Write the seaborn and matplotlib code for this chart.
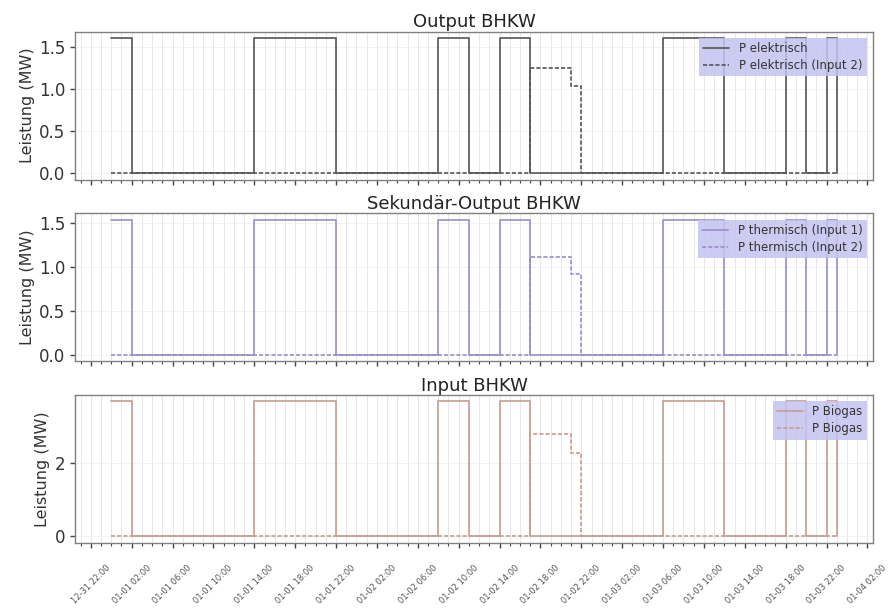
import pandas as pd
import matplotlib
matplotlib.use("Agg")
import matplotlib.pyplot as plt
import matplotlib.dates as mdates
import seaborn as sns

# change points of the step series (value holds until next time)
t_in1 = ["2019-01-01 00:00", "2019-01-01 02:00", "2019-01-01 14:00", "2019-01-01 22:00",
         "2019-01-02 08:00", "2019-01-02 11:00", "2019-01-02 14:00", "2019-01-02 17:00",
         "2019-01-03 06:00", "2019-01-03 12:00", "2019-01-03 18:00", "2019-01-03 20:00",
         "2019-01-03 22:00", "2019-01-03 23:00"]
t_in2 = ["2019-01-01 00:00", "2019-01-02 17:00", "2019-01-02 21:00", "2019-01-02 22:00",
         "2019-01-03 23:00"]

p_el_1 = [1.6, 0, 1.6, 0, 1.6, 0, 1.6, 0, 1.6, 0, 1.6, 0, 1.6, 0]
p_el_2 = [0, 1.25, 1.03, 0, 0]
p_th_1 = [1.54, 0, 1.54, 0, 1.54, 0, 1.54, 0, 1.54, 0, 1.54, 0, 1.54, 0]
p_th_2 = [0, 1.11, 0.92, 0, 0]
p_bg_1 = [3.66, 0, 3.66, 0, 3.66, 0, 3.66, 0, 3.66, 0, 3.66, 0, 3.66, 0]
p_bg_2 = [0, 2.77, 2.27, 0, 0]

panels = [
    ("Output BHKW", p_el_1, p_el_2, "P elektrisch", "P elektrisch (Input 2)", "#555555"),
    ("Sekundär-Output BHKW", p_th_1, p_th_2, "P thermisch (Input 1)", "P thermisch (Input 2)", "#9c8cc8"),
    ("Input BHKW", p_bg_1, p_bg_2, "P Biogas", "P Biogas", "#c69c8e"),
]

sns.set_style("white")
plt.rcParams["font.family"] = ["DejaVu Sans"]

fig, axes = plt.subplots(3, 1, figsize=(8.88, 6.14), dpi=100, sharex=True)
fig.subplots_adjust(left=75 / 888, right=873 / 888, top=1 - 31.5 / 614,
                    bottom=1 - 543 / 614, hspace=0.225)

x1 = pd.to_datetime(t_in1)
x2 = pd.to_datetime(t_in2)

for ax, (title, v1, v2, l1, l2, col) in zip(axes, panels):
    sns.lineplot(x=x1, y=v1, ax=ax, drawstyle="steps-post", color=col, lw=1.2, label=l1)
    sns.lineplot(x=x2, y=v2, ax=ax, drawstyle="steps-post", color=col, lw=1.2,
                 linestyle=(0, (2.5, 1.2)), label=l2)
    ax.set_title(title, fontsize=13, pad=3, color="#222222")
    ax.set_ylabel("Leistung (MW)", fontsize=11.5, color="#333333", labelpad=3)
    ax.xaxis.set_major_locator(mdates.HourLocator(byhour=[2, 6, 10, 14, 18, 22]))
    ax.xaxis.set_minor_locator(mdates.HourLocator())
    ax.xaxis.set_major_formatter(mdates.DateFormatter("%m-%d %H:%M"))
    ax.grid(True, which="minor", axis="x", color="#e4e4e4", lw=0.6)
    ax.grid(True, which="major", axis="x", color="#e4e4e4", lw=0.6)
    ax.grid(True, which="major", axis="y", color="#f0f0f0", lw=0.6)
    ax.tick_params(axis="both", which="major", length=3.5, width=1, color="#444444",
                   labelsize=12, labelcolor="#333333", bottom=True, left=True)
    ax.tick_params(axis="x", which="minor", length=2, width=0.8, color="#444444", bottom=True)
    for s in ax.spines.values():
        s.set_color("#808080")
        s.set_linewidth(1)
    leg = ax.legend(loc="upper right", fontsize=8.5, frameon=True, fancybox=False,
                    borderaxespad=0.55, handlelength=2.2, borderpad=0.35,
                    labelspacing=0.35)
    leg.get_frame().set_facecolor("#c4c4f0")
    leg.get_frame().set_edgecolor("none")
    leg.get_frame().set_alpha(0.85)
    for txt in leg.get_texts():
        txt.set_color("#333333")

axes[2].set_yticks([0, 2])
axes[2].set_xlabel("")
axes[2].tick_params(axis="x", which="major", pad=11)
plt.setp(axes[2].get_xticklabels(), rotation=45, ha="center", fontsize=6, color="#555555")

fig.savefig("out.png", dpi=100)
